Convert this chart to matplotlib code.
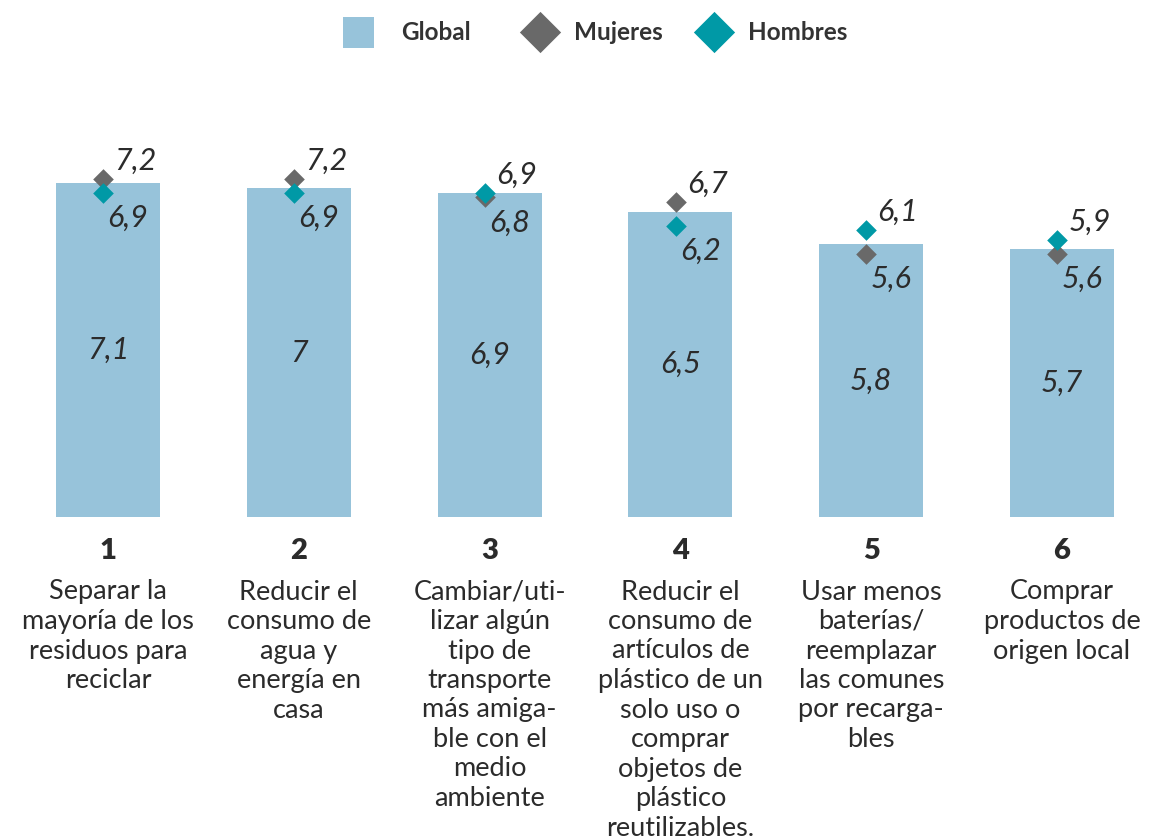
import matplotlib
matplotlib.use('Agg')
import matplotlib.pyplot as plt
from matplotlib.patches import Rectangle
from matplotlib.transforms import blended_transform_factory
import numpy as np

plt.rcParams['font.family'] = ['Lato', 'DejaVu Sans']

# datos
numeros = ['1', '2', '3', '4', '5', '6']
categorias = [
    ['Separar la', 'mayoría de los', 'residuos para', 'reciclar'],
    ['Reducir el', 'consumo de', 'agua y', 'energía en', 'casa'],
    ['Cambiar/uti-', 'lizar algún', 'tipo de', 'transporte', 'más amiga-',
     'ble con el', 'medio', 'ambiente'],
    ['Reducir el', 'consumo de', 'artículos de', 'plástico de un', 'solo uso o',
     'comprar', 'objetos de', 'plástico', 'reutilizables.'],
    ['Usar menos', 'baterías/', 'reemplazar', 'las comunes', 'por recarga-', 'bles'],
    ['Comprar', 'productos de', 'origen local'],
]
global_vals = [7.1, 7.0, 6.9, 6.5, 5.8, 5.7]
mujeres = [7.2, 7.2, 6.8, 6.7, 5.6, 5.6]
hombres = [6.9, 6.9, 6.9, 6.2, 6.1, 5.9]

C_BAR = '#97c3da'
C_MUJ = '#696969'
C_HOM = '#0099a6'
C_TXT = '#2b2b2b'


def fmt(v):
    return ('%g' % v).replace('.', ',')


W, H = 1150, 836
fig = plt.figure(figsize=(W / 100, H / 100), dpi=100)

# ejes principales: base en y=517 px, 47 px por unidad
base_px = 517
top_px = 100
ax = fig.add_axes([0, (H - base_px) / H, 1, (base_px - top_px) / H])
ax.set_xlim(-0.566, 5.461)
ax.set_ylim(0, (base_px - top_px) / 47.0)
ax.axis('off')

x = np.arange(len(global_vals))
ax.bar(x, global_vals, width=0.545, color=C_BAR, zorder=1)

for i, v in enumerate(global_vals):
    ax.text(x[i], v / 2, fmt(v), ha='center', va='center', fontsize=22,
            style='italic', color=C_TXT)

dx = -0.025
ax.scatter(x + dx, mujeres, marker='D', s=10.5 ** 2, color=C_MUJ, lw=0, zorder=3)
ax.scatter(x + dx, hombres, marker='D', s=10.5 ** 2, color=C_HOM, lw=0, zorder=4)

for i in range(len(x)):
    m, h = mujeres[i], hombres[i]
    if m >= h:
        up, lo = m, h
    else:
        up, lo = h, m
    ax.annotate(fmt(up), (x[i] + dx, up), xytext=(8, 13), textcoords='offset points',
                ha='left', va='center', fontsize=22, style='italic', color=C_TXT)
    ax.annotate(fmt(lo), (x[i] + dx, lo), xytext=(3, -18), textcoords='offset points',
                ha='left', va='center', fontsize=22, style='italic', color=C_TXT)

# textos de categorias debajo
trans = blended_transform_factory(ax.transData, fig.transFigure)
for i in range(len(x)):
    ax.text(x[i], (H - 551) / H, numeros[i], transform=trans, ha='center',
            va='center', fontsize=21, fontweight='heavy', color=C_TXT)
    for j, linea in enumerate(categorias[i]):
        y = 592 + 29.5 * j
        ax.text(x[i], (H - y) / H, linea, transform=trans, ha='center',
                va='center', fontsize=19.5, color=C_TXT, clip_on=False)

# leyenda (coordenadas de pixel)
lax = fig.add_axes([0, 0, 1, 1])
lax.set_xlim(0, W)
lax.set_ylim(H, 0)
lax.axis('off')
lax.patch.set_alpha(0)
lax.add_patch(Rectangle((343, 17), 31, 31, color=C_BAR, lw=0))
lax.text(401, 32, 'Global', ha='left', va='center', fontsize=17.5,
         fontweight='bold', color='#333333')
lax.scatter([540], [32], marker='D', s=21 ** 2, color=C_MUJ, lw=0)
lax.text(574, 32, 'Mujeres', ha='left', va='center', fontsize=17.5,
         fontweight='bold', color='#333333')
lax.scatter([714], [32], marker='D', s=21 ** 2, color=C_HOM, lw=0)
lax.text(748, 32, 'Hombres', ha='left', va='center', fontsize=17.5,
         fontweight='bold', color='#333333')

plt.savefig('out.png', dpi=100)
